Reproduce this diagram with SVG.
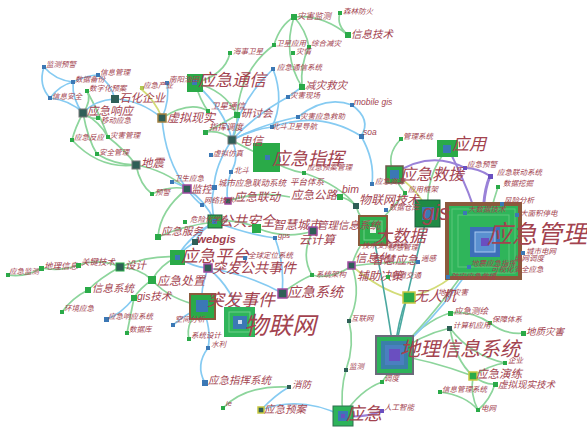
<svg xmlns="http://www.w3.org/2000/svg" width="587" height="430" viewBox="0 0 587 430">
<style>
.t{font-family:"Noto Sans CJK SC","Noto Sans",sans-serif;fill:#a3434f;font-style:italic}
.s7{font-size:7.5px}.s8{font-size:8.5px}.s9{font-size:9.5px}.s10{font-size:10.5px}.s11{font-size:11.5px}.s12{font-size:12px}.s14{font-size:14px}.s15{font-size:15px}.s16{font-size:16px}.s17{font-size:17px}.s18{font-size:18px}.s20{font-size:20px}.s22{font-size:22px}.s24{font-size:24px}.s25{font-size:25px}
.lat{font-family:"Liberation Sans",sans-serif}
.eg{fill:none;stroke:#8dd59c;stroke-width:1.7}
.eb{fill:none;stroke:#86cbf2;stroke-width:1.7}
.ey{fill:none;stroke:#d3dc78;stroke-width:1.7}
.ep{fill:none;stroke:#9a82d8;stroke-width:2}
.et{fill:none;stroke:#4aa8a0;stroke-width:1.6}
.g{fill:#2aaa48}.b{fill:#3b78b5}.d{fill:#2f5f57}.pu{fill:#6a4fc0}
.pb{stroke:#a04aa0;stroke-width:1.5}
.yb{stroke:#c8c840;stroke-width:1.5}
.br{stroke:#8b5a3c;stroke-width:2}
</style>
<g id="edges">
<path class="eg" d="M294 17 Q322 14 348 35"/>
<path class="eg" d="M340 13 Q336 25 348 35"/>
<path class="eg" d="M294 17 Q282 55 302 87"/>
<path class="eg" d="M294 17 Q306 30 309 47"/>
<path class="eg" d="M309 47 Q300 65 302 87"/>
<path class="eg" d="M274 45 Q280 25 294 17"/>
<path class="eg" d="M274 45 Q240 70 237 115"/>
<path class="eg" d="M230 53 Q225 75 195 83"/>
<path class="eg" d="M195 83 Q225 90 237 115"/>
<path class="eg" d="M195 83 Q200 100 208 111"/>
<path class="eg" d="M237 115 Q220 125 206 132"/>
<path class="eg" d="M206 132 Q222 130 232 140"/>
<path class="eg" d="M237 115 Q238 128 232 140"/>
<path class="eg" d="M162 118 Q190 100 208 111"/>
<path class="eg" d="M83 113 Q92 100 87 91"/>
<path class="eg" d="M83 113 Q92 120 98 118"/>
<path class="eg" d="M83 113 Q75 128 72 140"/>
<path class="eg" d="M83 113 Q100 122 108 137"/>
<path class="eg" d="M83 113 Q88 140 97 154"/>
<path class="eg" d="M72 140 Q100 170 136 165"/>
<path class="eg" d="M97 154 Q115 165 136 165"/>
<path class="eg" d="M108 137 Q125 150 136 165"/>
<path class="eg" d="M87 91 Q100 115 108 137"/>
<path class="eg" d="M136 165 Q140 185 152 194"/>
<path class="eg" d="M136 165 Q165 170 187 189"/>
<path class="eg" d="M152 194 Q170 185 187 189"/>
<path class="eg" d="M187 189 Q160 210 158 237"/>
<path class="eg" d="M215 222 Q185 225 158 237"/>
<path class="eg" d="M215 222 Q237 218 257 228"/>
<path class="eg" d="M177 257 Q160 265 152 280"/>
<path class="eg" d="M177 257 Q150 255 120 267"/>
<path class="eg" d="M120 267 Q100 258 78 265"/>
<path class="eg" d="M78 265 Q60 272 41 268"/>
<path class="eg" d="M41 268 Q25 278 8 275"/>
<path class="eg" d="M120 267 Q100 278 88 290"/>
<path class="eg" d="M88 290 Q72 298 62 312"/>
<path class="eg" d="M152 280 Q140 288 134 298"/>
<path class="eg" d="M134 298 Q130 318 127 333"/>
<path class="eg" d="M120 267 Q140 268 152 280"/>
<path class="eg" d="M202 306 Q185 322 189 339"/>
<path class="eg" d="M223 408 Q245 385 289 387"/>
<path class="eg" d="M343 416 Q340 390 346 370"/>
<path class="eg" d="M346 370 Q355 345 349 321"/>
<path class="eg" d="M349 321 Q362 295 352 266"/>
<path class="eg" d="M343 416 Q360 390 382 382"/>
<path class="eg" d="M382 382 Q392 370 394 355"/>
<path class="eg" d="M394 355 Q425 320 450 313"/>
<path class="eg" d="M450 313 Q470 310 490 323"/>
<path class="eg" d="M490 323 Q505 335 524 333"/>
<path class="eg" d="M394 355 Q420 335 450 328"/>
<path class="eg" d="M450 328 Q455 360 473 376"/>
<path class="eg" d="M450 328 Q470 355 505 363"/>
<path class="eg" d="M473 376 Q490 365 505 363"/>
<path class="eg" d="M473 376 Q485 385 495 384"/>
<path class="eg" d="M495 384 Q490 400 478 410"/>
<path class="eg" d="M440 392 Q465 395 478 410"/>
<path class="eg" d="M473 376 Q470 395 478 410"/>
<path class="eg" d="M394 355 Q430 360 473 376"/>
<path class="eg" d="M372 230 Q360 220 356 206"/>
<path class="eg" d="M356 206 Q348 198 340 197"/>
<path class="eg" d="M372 230 Q355 250 352 266"/>
<path class="eg" d="M352 266 Q330 280 312 275"/>
<path class="eg" d="M372 230 Q395 205 405 193"/>
<path class="eg" d="M405 193 Q398 185 394 174"/>
<path class="eg" d="M401 139 Q385 155 394 174"/>
<path class="eg" d="M448 148 Q425 175 428 213"/>
<path class="eg" d="M485 242 Q490 210 498 187"/>
<path class="eg" d="M266 157 Q285 170 304 173"/>
<path class="eg" d="M266 157 Q245 148 232 140"/>
<path class="eg" d="M152 280 Q170 300 202 306"/>
<path class="eg" d="M228 201 Q260 190 290 197"/>
<path class="eg" d="M257 228 Q285 240 313 231"/>
<path class="eg" d="M313 231 Q300 255 312 275"/>
<path class="eg" d="M282 293 Q300 280 312 275"/>
<path class="eg" d="M394 355 Q440 310 485 242"/>
<path class="eg" d="M352 266 Q380 262 418 262"/>
<path class="eg" d="M304 173 Q340 185 356 206"/>
<path class="eb" d="M44 67 Q55 80 73 82"/>
<path class="eb" d="M44 67 Q38 85 50 98"/>
<path class="eb" d="M50 98 Q60 85 73 82"/>
<path class="eb" d="M73 82 Q88 75 98 75"/>
<path class="eb" d="M98 75 Q110 82 115 99"/>
<path class="eb" d="M73 82 Q72 100 83 113"/>
<path class="eb" d="M50 98 Q70 100 83 113"/>
<path class="eb" d="M115 99 Q95 100 83 113"/>
<path class="eb" d="M115 99 Q140 100 162 118"/>
<path class="eb" d="M167 83 Q170 100 162 118"/>
<path class="eb" d="M195 83 Q225 110 232 140"/>
<path class="eb" d="M162 118 Q165 160 187 189"/>
<path class="eb" d="M273 69 Q285 100 272 127"/>
<path class="eb" d="M302 87 Q295 92 288 97"/>
<path class="eb" d="M288 97 Q255 115 232 140"/>
<path class="eb" d="M298 117 Q325 95 352 105"/>
<path class="eb" d="M272 127 Q320 110 361 136"/>
<path class="eb" d="M298 117 Q260 125 232 140"/>
<path class="eb" d="M272 127 Q250 130 232 140"/>
<path class="eb" d="M273 69 Q240 100 232 140"/>
<path class="eb" d="M352 105 Q372 120 361 136"/>
<path class="eb" d="M361 136 Q375 160 372 184"/>
<path class="eb" d="M232 140 Q240 158 231 172"/>
<path class="eb" d="M231 172 Q225 190 228 201"/>
<path class="eb" d="M232 140 Q215 165 214 187"/>
<path class="eb" d="M187 189 Q178 183 172 182"/>
<path class="eb" d="M187 189 Q195 200 202 205"/>
<path class="eb" d="M187 189 Q205 200 215 222"/>
<path class="eb" d="M214 187 Q210 205 215 222"/>
<path class="eb" d="M215 222 Q200 230 195 242"/>
<path class="eb" d="M215 222 Q190 235 177 257"/>
<path class="eb" d="M195 242 Q185 248 177 257"/>
<path class="eb" d="M177 257 Q195 268 208 268"/>
<path class="eb" d="M208 268 Q200 290 202 306"/>
<path class="eb" d="M208 268 Q250 275 282 293"/>
<path class="eb" d="M208 268 Q235 290 240 322"/>
<path class="eb" d="M282 293 Q285 265 275 238"/>
<path class="eb" d="M215 222 Q250 235 275 238"/>
<path class="eb" d="M202 306 Q212 330 208 348"/>
<path class="eb" d="M208 348 Q195 365 205 383"/>
<path class="eb" d="M202 306 Q185 315 173 325"/>
<path class="eb" d="M134 298 Q120 315 107 319"/>
<path class="eb" d="M261 410 Q275 395 289 387"/>
<path class="eb" d="M261 410 Q300 395 343 416"/>
<path class="eb" d="M485 242 Q455 300 394 355"/>
<path class="ey" d="M140 88 Q155 100 162 118"/>
<path class="ey" d="M352 266 Q380 290 407 297"/>
<path class="ey" d="M407 297 Q450 290 485 242"/>
<path class="ey" d="M394 174 Q420 190 428 213"/>
<path class="et" d="M394 355 Q398 320 407 297"/>
<path class="et" d="M394 355 Q385 290 372 230"/>
<path class="et" d="M394 355 Q410 280 428 213"/>
<path class="ep" d="M394 174 Q430 150 465 168"/>
<path class="ep" d="M465 168 Q478 168 490 176"/>
<path class="ep" d="M490 176 Q480 200 485 242" style="stroke-width:3"/>
<path class="ep" d="M448 148 Q470 190 485 242"/>
<path class="ep" d="M343 416 Q365 418 382 411"/>
</g>
<g id="n-yjgl"><rect x="447" y="204" width="73" height="74" fill="#2fb55a" class="br" style="stroke-width:4"/><rect x="452" y="209" width="63" height="64" fill="none" stroke="#5cc87a"/><rect x="458" y="215" width="51" height="52" fill="none" stroke="#5cc87a"/><rect x="470" y="227" width="30" height="30" fill="#3d6fb8"/><rect x="475" y="232" width="20" height="20" fill="#5a90d0" stroke="#a8c8f0"/><rect x="481" y="238" width="8" height="8" class="pu"/><text class="t s25" x="487" y="243">应急管理</text></g>
<g id="n-dlxx"><rect x="376" y="336" width="37" height="38" fill="#2db35a" stroke="#6b6b7a" stroke-width="2"/><rect x="381" y="341" width="27" height="28" fill="#3a7fa8"/><rect x="385" y="345" width="19" height="20" fill="#4a7fc0"/><rect x="389" y="349" width="11" height="12" class="pu"/><text class="t s20" x="400" y="356">地理信息系统</text></g>
<g id="n-yj"><rect x="333" y="406" width="20" height="20" fill="#2db35a" stroke="#2f6f4f"/><rect x="338" y="411" width="10" height="10" fill="#3b78b5"/><rect x="341" y="414" width="4" height="4" class="pu"/><text class="t s18" x="346" y="420">应急</text></g>
<g id="n-dsj"><rect x="359" y="216" width="28" height="29" fill="#2eb04f" class="br"/><rect x="364" y="221" width="18" height="19" fill="none" stroke="#6fd08a"/><rect x="370" y="227" width="6" height="6" fill="#e8f4ea"/><text class="t s17" x="375" y="242">大数据</text></g>
<g id="n-gis"><rect x="415" y="200" width="25" height="27" fill="#1f8a45" stroke="#1d5d3d"/><rect x="422" y="207" width="12" height="13" fill="#3b78b5"/><text class="t s22 lat" x="422" y="220">gis</text></g>
<g id="n-yjjy"><rect x="386" y="166" width="17" height="17" fill="#2aaa48" stroke="#6d5a4a" stroke-width="1.5"/><rect x="390" y="170" width="9" height="9" fill="#3b78b5"/><text class="t s16" x="400" y="180">应急救援</text></g>
<g id="n-yy"><rect x="437" y="140" width="21" height="17" class="g"/><rect x="443" y="145" width="8" height="8" class="b"/><text class="t s17" x="452" y="150">应用</text></g>
<g id="n-yjzh"><rect x="253" y="143" width="27" height="29" class="g"/><rect x="265" y="155" width="5" height="5" class="b"/><text class="t s18" x="272" y="165">应急指挥</text></g>
<g id="n-yjtx"><rect x="187" y="74" width="16" height="18" class="g"/><rect x="192" y="80" width="5" height="5" class="b"/><text class="t s17" x="198" y="86">应急通信</text></g>
<g id="n-tfsj"><rect x="190" y="294" width="25" height="25" class="g br"/><rect x="196" y="300" width="12" height="12" class="b"/><text class="t s17" x="207" y="306">突发事件</text></g>
<g id="n-wlw"><rect x="224" y="307" width="31" height="30" fill="#2fb55a"/><rect x="229" y="312" width="21" height="20" fill="none" stroke="#6fd08a"/><rect x="233" y="316" width="14" height="13" class="b"/><rect x="238" y="320" width="4" height="4" fill="#cde"/><text class="t s24" x="244" y="334">物联网</text></g>
<g id="n-yjpt"><rect x="170" y="250" width="15" height="15" class="g"/><rect x="175" y="255" width="5" height="5" class="b"/><text class="t s17" x="181" y="262">应急平台</text></g>
<g id="n-ggaq"><rect x="208" y="215" width="14" height="13" class="g" stroke="#1d5d3d"/><rect x="212" y="219" width="5" height="5" class="b"/><text class="t s14" x="219" y="226">公共安全</text></g>
<g id="n-wrj"><rect x="403" y="292" width="12" height="11" class="g yb"/><text class="t s14" x="414" y="301">无人机</text></g>
<g id="n-xnxs"><rect x="158" y="114" width="8" height="8" class="d" stroke="#a08040" stroke-width="1.5"/><text class="t s12" x="167" y="122">虚拟现实</text></g>
<g id="n-yjxt"><rect x="278" y="289" width="9" height="9" class="d pb"/><text class="t s14" x="287" y="297">应急系统</text></g>
<g id="n-tfgg"><rect x="204" y="264" width="8" height="8" class="d pb"/><text class="t s14" x="212" y="273">突发公共事件</text></g>
<g id="n-yjcz"><rect x="148" y="276" width="8" height="8" class="g"/><text class="t s12" x="157" y="285">应急处置</text></g>
<g id="n-zhcs"><rect x="252" y="224" width="9" height="9" class="g"/><text class="t s12" x="273" y="229">智慧城市</text></g>
<g id="n-yjs"><rect x="309" y="227" width="8" height="8" class="d pb"/><text class="t s12" x="299" y="244">云计算</text></g>
<g id="n-sj"><rect x="116" y="263" width="8" height="8" class="d" stroke="#2aaa48"/><text class="t s10" x="125" y="269">设计</text></g>
<g id="n-yjxy"><rect x="79" y="109" width="8" height="8" class="d" stroke="#777"/><text class="t s11" x="87" y="115">应急响应</text></g>
<g id="n-shqy"><rect x="111" y="95" width="8" height="8" class="d"/><text class="t s11" x="119" y="102">石化企业</text></g>
<g id="n-jk"><rect x="183" y="185" width="8" height="8" class="d pb"/><text class="t s10" x="191" y="193">监控</text></g>
<g id="n-dz"><rect x="132" y="161" width="8" height="8" class="d" stroke="#777"/><text class="t s11" x="141" y="167">地震</text></g>
<g id="n-dx"><rect x="228" y="136" width="8" height="8" class="d" stroke="#777"/><text class="t s11" x="240" y="145">电信</text></g>
<g id="n-ytk"><rect x="234" y="112" width="6" height="6" class="g"/><text class="t s10" x="241" y="117">研讨会</text></g>
<g id="n-jzjz"><rect x="299" y="84" width="6" height="6" class="g"/><text class="t s10" x="305" y="89">减灾救灾</text></g>
<g id="n-xxjs"><rect x="345" y="32" width="6" height="6" class="g"/><text class="t s10" x="351" y="38">信息技术</text></g>
<g id="n-zhjc"><rect x="291" y="14" width="6" height="6" class="g"/><text class="t s8" x="297" y="19">灾害监测</text></g>
<g id="n-slfh"><rect x="338" y="11" width="4" height="4" class="g"/><text class="t s7" x="343" y="14">森林防火</text></g>
<g id="n-wxyy"><rect x="272" y="43" width="4" height="4" class="g"/><text class="t s7" x="276" y="46">卫星应用</text></g>
<g id="n-zhjz"><rect x="307" y="45" width="4" height="4" class="g"/><text class="t s7" x="311" y="46">综合减灾</text></g>
<g id="n-zq"><rect x="291" y="51" width="4" height="4" class="g"/><text class="t s7" x="296" y="54">灾情</text></g>
<g id="n-hswx"><rect x="228" y="51" width="4" height="4" class="g"/><text class="t s7" x="233" y="54">海事卫星</text></g>
<g id="n-yjtxxt"><rect x="271" y="67" width="4" height="4" class="b"/><text class="t s7" x="277" y="70">应急通信系统</text></g>
<g id="n-zhxc"><rect x="286" y="95" width="4" height="4" class="b"/><text class="t s7" x="290" y="98">灾害现场</text></g>
<g id="n-zhjzh"><rect x="296" y="115" width="4" height="4" class="b"/><text class="t s7" x="300" y="119">灾害应急救助</text></g>
<g id="n-bdwx"><rect x="270" y="125" width="4" height="4" class="b"/><text class="t s7" x="272" y="129">北斗卫星导航</text></g>
<g id="n-mgis"><rect x="350" y="103" width="4" height="4" class="b"/><text class="t s8 lat" x="354" y="105">mobile gis</text></g>
<g id="n-soa"><rect x="359" y="134" width="5" height="5" class="b"/><text class="t s8 lat" x="363" y="135">soa</text></g>
<g id="n-glxt"><rect x="399" y="137" width="4" height="4" class="g"/><text class="t s7" x="403" y="139">管理系统</text></g>
<g id="n-wxtx"><rect x="206" y="109" width="4" height="4" class="g"/><text class="t s8" x="211" y="109">卫星通信</text></g>
<g id="n-zhdd"><rect x="203" y="130" width="5" height="5" class="g"/><text class="t s8" x="209" y="130">指挥调度</text></g>
<g id="n-nyyt"><rect x="165" y="81" width="4" height="4" class="b"/><text class="t s7" x="169" y="82">南阳油田</text></g>
<g id="n-yjcy"><rect x="140" y="86" width="4" height="4" fill="#b0c850"/><text class="t s7" x="143" y="88">应急产业</text></g>
<g id="n-jcyj"><rect x="42" y="65" width="4" height="4" class="b"/><text class="t s7" x="46" y="67">监测预警</text></g>
<g id="n-sjbf"><rect x="71" y="80" width="4" height="4" class="b"/><text class="t s7" x="75" y="82">数据备份</text></g>
<g id="n-xxgl"><rect x="96" y="73" width="4" height="4" class="b"/><text class="t s7" x="100" y="75">信息管理</text></g>
<g id="n-xxaq"><rect x="48" y="96" width="4" height="4" class="b"/><text class="t s7" x="52" y="99">信息安全</text></g>
<g id="n-szh"><rect x="85" y="89" width="4" height="4" class="g"/><text class="t s7" x="89" y="91">数字化预案</text></g>
<g id="n-ydyj"><rect x="96" y="116" width="4" height="4" class="g"/><text class="t s7" x="101" y="123">移动应急</text></g>
<g id="n-yjfy"><rect x="70" y="138" width="4" height="4" class="g"/><text class="t s7" x="74" y="140">应急反应</text></g>
<g id="n-zhgl"><rect x="106" y="135" width="4" height="4" class="g"/><text class="t s7" x="110" y="138">灾害管理</text></g>
<g id="n-aqgl"><rect x="95" y="152" width="4" height="4" class="g"/><text class="t s7" x="99" y="155">安全管理</text></g>
<g id="n-xnfz"><rect x="209" y="153" width="4" height="4" class="b"/><text class="t s7" x="213" y="156">虚拟仿真</text></g>
<g id="n-bd"><rect x="229" y="170" width="4" height="4" class="b"/><text class="t s7" x="234" y="173">北斗</text></g>
<g id="n-wsyj"><rect x="170" y="180" width="4" height="4" class="b"/><text class="t s7" x="174" y="181">卫生应急</text></g>
<g id="n-yj2"><rect x="150" y="192" width="4" height="4" class="g"/><text class="t s7" x="155" y="195">预警</text></g>
<g id="n-csyj"><rect x="212" y="185" width="5" height="5" class="b"/><text class="t s8" x="218" y="186">城市应急联动系统</text></g>
<g id="n-ptx"><text class="t s8" x="290" y="185">平台体系</text></g>
<g id="n-wljs"><rect x="200" y="203" width="4" height="4" class="b"/><rect x="225" y="198" width="6" height="6" class="d pb"/><text class="t s7" x="204" y="203">网络技术</text></g>
<g id="n-yjld"><text class="t s11" x="234" y="201">应急联动</text><text class="t s11" x="291" y="199">应急公路</text></g>
<g id="n-whx"><rect x="183" y="220" width="4" height="4" class="g"/><text class="t s7" x="190" y="222">危险化学品</text></g>
<g id="n-yjfw"><rect x="155" y="234" width="6" height="6" class="g"/><text class="t s10" x="161" y="235">应急服务</text></g>
<g id="n-webgis"><rect x="192" y="239" width="6" height="6" class="d"/><text class="t s11 lat" x="197" y="243" font-weight="bold">webgis</text></g>
<g id="n-gps"><rect x="273" y="236" width="4" height="4" class="b"/><text class="t s7 lat" x="278" y="238">gps</text></g>
<g id="n-qqdw"><rect x="243" y="256" width="4" height="4" class="b"/><text class="t s7" x="248" y="258">全球定位系统</text></g>
<g id="n-yaglr"><rect x="302" y="171" width="4" height="4" class="g"/><text class="t s7" x="307" y="170">应急预案管理</text></g>
<g id="n-glxxxt"><text class="t s10" x="317" y="229">管理信息系统</text></g>
<g id="n-bim"><rect x="337" y="194" width="6" height="6" class="g"/><text class="t s10 lat" x="342" y="193">bim</text></g>
<g id="n-wlwjs"><rect x="353" y="203" width="6" height="6" class="d"/><text class="t s12" x="359" y="204">物联网技术</text></g>
<g id="n-yjzy"><rect x="370" y="182" width="4" height="4" class="b"/><text class="t s7" x="375" y="184">应急资源</text></g>
<g id="n-yykj"><rect x="403" y="191" width="4" height="4" class="g"/><text class="t s7" x="408" y="192">应用框架</text></g>
<g id="n-sjck"><rect x="384" y="208" width="4" height="4" class="b"/><text class="t s7" x="389" y="210">数据仓库</text></g>
<g id="n-jszc"><text class="t s7" x="362" y="248">技术支撑系统</text><text class="t s7" x="388" y="250">智慧管理</text></g>
<g id="n-xxh"><text class="t s11" x="355" y="262">信息化</text><text class="t s11" x="372" y="264">智慧应急</text></g>
<g id="n-yg"><rect x="416" y="260" width="4" height="4" class="b"/><text class="t s7" x="421" y="261">遥感</text></g>
<g id="n-fzjc"><rect x="348" y="262" width="7" height="7" class="d pb"/><text class="t s11" x="357" y="280">辅助决策</text></g>
<g id="n-gdjt"><rect x="386" y="275" width="4" height="4" class="g"/><text class="t s7" x="391" y="278">轨道交通</text></g>
<g id="n-xtjg"><rect x="310" y="273" width="4" height="4" class="g"/><text class="t s7" x="316" y="277">系统架构</text></g>
<g id="n-yjyj"><rect x="463" y="166" width="4" height="4" class="pu"/><text class="t s7" x="467" y="167">应急预警</text></g>
<g id="n-yjldxt"><rect x="488" y="174" width="5" height="5" class="pu"/><text class="t s7" x="497" y="175">应急联动系统</text></g>
<g id="n-sjwj"><rect x="496" y="185" width="4" height="4" class="g"/><text class="t s7" x="503" y="186">数据挖掘</text></g>
<g id="n-fxfx"><rect x="500" y="202" width="4" height="4" class="b"/><text class="t s7" x="504" y="203">风险分析</text></g>
<g id="n-dsjjs"><rect x="463" y="211" width="4" height="4" class="b"/><text class="t s7" x="468" y="212">大数据技术</text></g>
<g id="n-dmjtd"><rect x="515" y="213" width="4" height="4" class="b"/><text class="t s7" x="520" y="216">大面积停电</text></g>
<g id="n-csdw"><rect x="521" y="251" width="4" height="4" class="b"/><text class="t s7" x="526" y="254">城市电网</text></g>
<g id="n-dwdd"><text class="t s7" x="514" y="261">电网调度</text></g>
<g id="n-dzyj"><rect x="467" y="265" width="4" height="4" class="b"/><text class="t s7" x="471" y="266">地震应急指挥</text></g>
<g id="n-ksh"><text class="t s7" x="491" y="272">可视化安全应急</text></g>
<g id="n-fzyj"><rect x="446" y="275" width="4" height="4" class="b"/><text class="t s7" x="451" y="279">防灾应急救援</text></g>
<g id="n-dzzh2"><text class="t s7" x="438" y="295">地质灾害</text></g>
<g id="n-yjch"><rect x="448" y="311" width="5" height="5" class="g"/><text class="t s8" x="454" y="314">应急测绘</text></g>
<g id="n-bztx"><rect x="488" y="321" width="4" height="4" class="g"/><text class="t s7" x="492" y="322">保障体系</text></g>
<g id="n-dzzh"><rect x="521" y="331" width="5" height="5" class="g"/><text class="t s9" x="526" y="335">地质灾害</text></g>
<g id="n-jsjyy"><rect x="447" y="326" width="5" height="5" class="d"/><text class="t s7" x="453" y="328">计算机应用</text></g>
<g id="n-qy"><rect x="503" y="361" width="4" height="4" class="g"/><text class="t s7" x="508" y="363">企业</text></g>
<g id="n-yjyl"><rect x="469" y="372" width="8" height="8" class="g yb"/><text class="t s11" x="476" y="378">应急演练</text></g>
<g id="n-xnxsjs"><rect x="493" y="382" width="5" height="5" class="g"/><text class="t s9" x="498" y="388">虚拟现实技术</text></g>
<g id="n-xxglxt"><rect x="438" y="390" width="4" height="4" class="g"/><text class="t s7" x="442" y="392">信息管理系统</text></g>
<g id="n-dw"><rect x="476" y="408" width="4" height="4" class="g"/><text class="t s7" x="481" y="411">电网</text></g>
<g id="n-hlw"><rect x="347" y="319" width="4" height="4" class="d"/><text class="t s7" x="351" y="321">互联网</text></g>
<g id="n-jc"><rect x="344" y="368" width="4" height="4" class="d"/><text class="t s7" x="349" y="369">监测</text></g>
<g id="n-dd"><rect x="380" y="380" width="4" height="4" class="g"/><text class="t s7" x="384" y="381">调度</text></g>
<g id="n-rgzn"><rect x="380" y="409" width="4" height="4" class="pu"/><text class="t s7" x="384" y="410">人工智能</text></g>
<g id="n-xf"><rect x="287" y="385" width="4" height="4" class="d"/><text class="t s9" x="292" y="388">消防</text></g>
<g id="n-yjya"><rect x="258" y="407" width="6" height="6" class="d yb"/><text class="t s10" x="264" y="413">应急预案</text></g>
<g id="n-yjzhxt"><rect x="202" y="380" width="6" height="6" class="b"/><text class="t s10" x="208" y="384">应急指挥系统</text></g>
<g id="n-ie"><rect x="221" y="406" width="4" height="4" class="g"/><text class="t s7 lat" x="226" y="406">ie</text></g>
<g id="n-kjfx"><rect x="171" y="323" width="4" height="4" class="b"/><text class="t s7" x="175" y="322">空间分析</text></g>
<g id="n-xtsj"><rect x="187" y="337" width="4" height="4" class="g"/><text class="t s7" x="191" y="338">系统设计</text></g>
<g id="n-sl"><rect x="206" y="346" width="4" height="4" class="b"/><text class="t s7" x="211" y="347">水利</text></g>
<g id="n-gisjs"><rect x="131" y="295" width="6" height="6" class="g"/><text class="t s10" x="137" y="300"><tspan class="lat">gis</tspan>技术</text></g>
<g id="n-xxxt"><rect x="85" y="287" width="6" height="6" class="g"/><text class="t s10" x="92" y="292">信息系统</text></g>
<g id="n-hjyj"><rect x="60" y="310" width="4" height="4" class="g"/><text class="t s7" x="64" y="311">环境应急</text></g>
<g id="n-yjxyxt"><rect x="104" y="317" width="5" height="5" class="b"/><text class="t s7" x="108" y="319">应急响应系统</text></g>
<g id="n-sjk"><rect x="125" y="331" width="4" height="4" class="g"/><text class="t s7" x="129" y="332">数据库</text></g>
<g id="n-yjjc"><rect x="6" y="273" width="4" height="4" class="g"/><text class="t s7" x="9" y="274">应急监测</text></g>
<g id="n-dlxx2"><rect x="39" y="266" width="5" height="5" class="g"/><text class="t s8" x="44" y="269">地理信息</text></g>
<g id="n-gjjs"><rect x="76" y="263" width="5" height="5" class="g"/><text class="t s8" x="81" y="265">关键技术</text></g>
</svg>
